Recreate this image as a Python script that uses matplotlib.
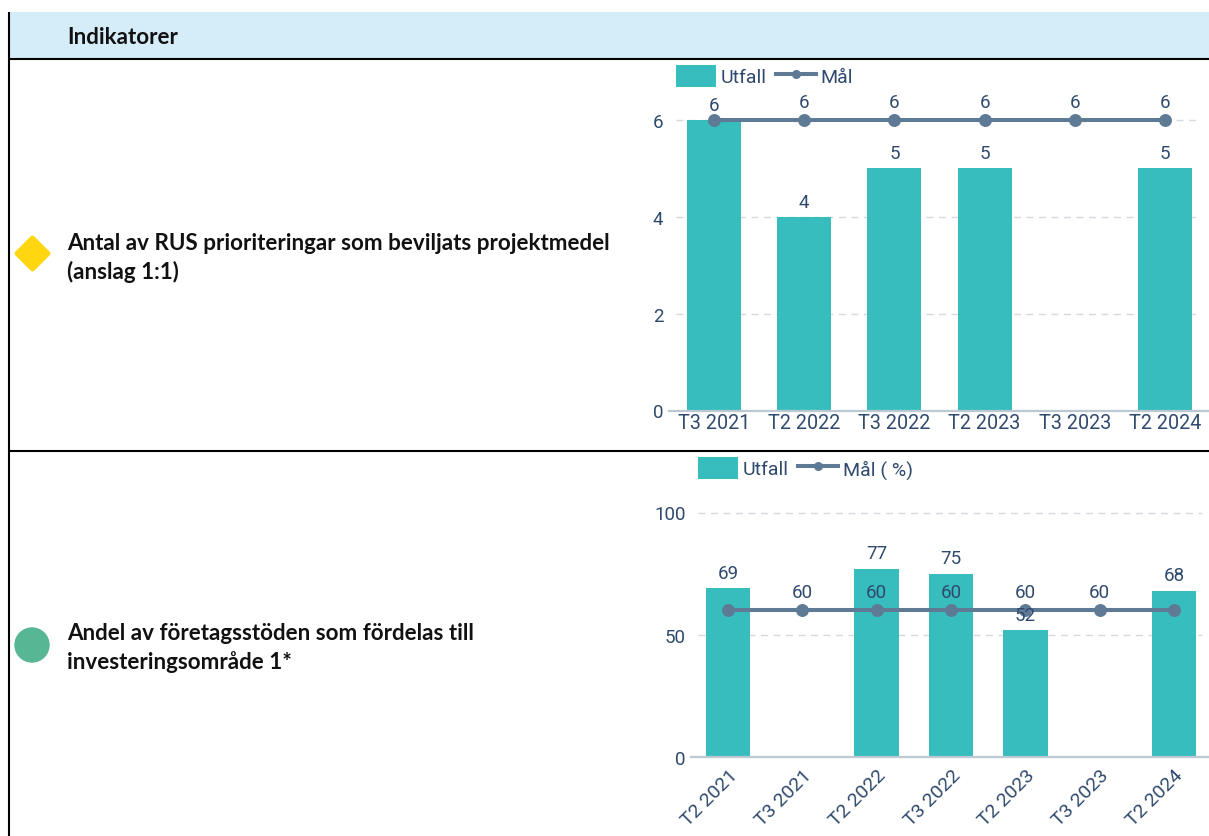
import numpy as np
import matplotlib
matplotlib.use("Agg")
import matplotlib.pyplot as plt
from matplotlib.patches import Patch, Rectangle
from matplotlib.lines import Line2D

W, H = 1209, 837
BAR = "#37BDBD"; LINE = "#5F7A94"; TXT = "#2F4A6D"; GRID = "#D5DADF"; AXIS = "#BCC8D2"

header = "Indikatorer"
row1_title = "Antal av RUS prioriteringar som beviljats projektmedel\n(anslag 1:1)"
row2_title = "Andel av företagsstöden som fördelas till\ninvesteringsområde 1*"

cats1 = ["T3 2021", "T2 2022", "T3 2022", "T2 2023", "T3 2023", "T2 2024"]
actual1 = [6, 4, 5, 5, np.nan, 5]
goal1 = [6, 6, 6, 6, 6, 6]
goal1_shown = [False, True, True, True, True, True]
ticks1 = [0, 2, 4, 6]

cats2 = ["T2 2021", "T3 2021", "T2 2022", "T3 2022", "T2 2023", "T3 2023", "T2 2024"]
actual2 = [69, np.nan, 77, 75, 52, np.nan, 68]
goal2 = [60, 60, 60, 60, 60, 60, 60]
goal2_shown = [False, True, True, True, True, True, False]
ticks2 = [0, 50, 100]

fig = plt.figure(figsize=(W / 100, H / 100), dpi=100, facecolor="white")

bg = fig.add_axes([0, 0, 1, 1])
bg.set_xlim(0, W); bg.set_ylim(H - 1, -1); bg.axis("off")
bg.add_patch(Rectangle((10, 12), W - 10, 46, fc="#D5ECF9", ec="none"))
bg.plot([9, 9], [12, H], color="black", lw=1.5, solid_capstyle="butt")
bg.plot([9, W], [59, 59], color="black", lw=1.5, solid_capstyle="butt")
bg.plot([9, W], [451, 451], color="black", lw=1.5, solid_capstyle="butt")
kw = dict(family="Lato", weight="bold", fontsize=16.15, color="#111111")
bg.text(67, 36, header, va="center", **kw)
bg.text(67, 257, row1_title, va="center", linespacing=1.36, **kw)
bg.text(67, 647, row2_title, va="center", linespacing=1.36, **kw)
d = bg.scatter([32], [253], marker="D", s=250, color="#FFD60F", edgecolors="#FFD60F", linewidths=3.5, zorder=3)
d.set_joinstyle("round")
bg.scatter([32], [645], marker="o", s=650, color="#57B795", edgecolors="none", zorder=3)


def px_axes(left, right, top, bottom):
    return fig.add_axes([left / W, 1 - (bottom + 1) / H, (right - left) / W, (bottom - top) / H])


def chart(ax, cats, actual, goal, shown, ticks, bar_w, ymax, goal_name, rot, legend_xy):
    x = np.arange(len(cats))
    ax.patch.set_alpha(0)
    ax.set_xlim(-0.5, len(cats) - 0.5)
    ax.set_ylim(0, ymax)
    for s in ["top", "right", "left"]:
        ax.spines[s].set_visible(False)
    ax.spines["bottom"].set_color(AXIS)
    ax.spines["bottom"].set_linewidth(1.6)
    ax.set_yticks(ticks)
    ax.tick_params(axis="y", length=0, pad=4, labelsize=13.5, labelcolor=TXT)
    ax.set_xticks(x)
    ax_w = ax.get_position().width * W
    ax.hlines(ticks[1:], 7 / ax_w, 1 - 9 / ax_w, transform=ax.get_yaxis_transform(),
              color=GRID, lw=1.0, ls=(0, (5, 4)), zorder=1, clip_on=False)
    ax.bar(x, actual, width=bar_w, color=BAR, zorder=2)
    ax.plot(x, goal, color=LINE, lw=2.9, marker="o", ms=8.3, zorder=3, clip_on=False)
    for xi, v in zip(x, actual):
        if not np.isnan(v):
            ax.annotate(f"{v:g}", (xi, v), xytext=(0, 11), textcoords="offset points",
                        ha="center", va="center", fontsize=13.5, color=TXT,
                        family="Roboto", zorder=4)
    for xi, v, s in zip(x, goal, shown):
        if s:
            ax.annotate(f"{v:g}", (xi, v), xytext=(0, 13.2), textcoords="offset points",
                        ha="center", va="center", fontsize=13.5, color=TXT,
                        family="Roboto", zorder=4)
    if rot:
        ax.tick_params(axis="x", length=0, pad=6, labelsize=14, labelcolor=TXT)
        ax.set_xticklabels(cats, rotation=45, ha="right", rotation_mode="anchor", family="Roboto")
    else:
        ax.tick_params(axis="x", length=0, pad=2, labelsize=14.2, labelcolor=TXT)
        ax.set_xticklabels(cats, family="Roboto")
    for lab in ax.get_yticklabels():
        lab.set_family("Roboto")
    handles = [Patch(fc=BAR, ec="none"),
               Line2D([], [], color=LINE, lw=2.9, marker="o", ms=5.5)]
    fig.legend(handles, ["Utfall", goal_name], loc="center left",
               bbox_to_anchor=(legend_xy[0] / W, 1 - legend_xy[1] / H),
               bbox_transform=fig.transFigure, frameon=False, ncols=2,
               labelcolor=TXT, prop={"family": "Roboto", "size": 14},
               handlelength=2.05, handleheight=1.4, handletextpad=0.26, columnspacing=0.46,
               borderpad=0, borderaxespad=0)


ax1 = px_axes(669, 1210, 120, 410.5)
chart(ax1, cats1, actual1, goal1, goal1_shown, ticks1, 0.6, 6, "Mål", False, (676, 77))

ax2 = px_axes(691, 1211, 512.5, 757)
chart(ax2, cats2, actual2, goal2, goal2_shown, ticks2, 0.6, 100, "Mål ( %)", True, (698, 469))

fig.savefig("out.png", dpi=100, facecolor="white")
